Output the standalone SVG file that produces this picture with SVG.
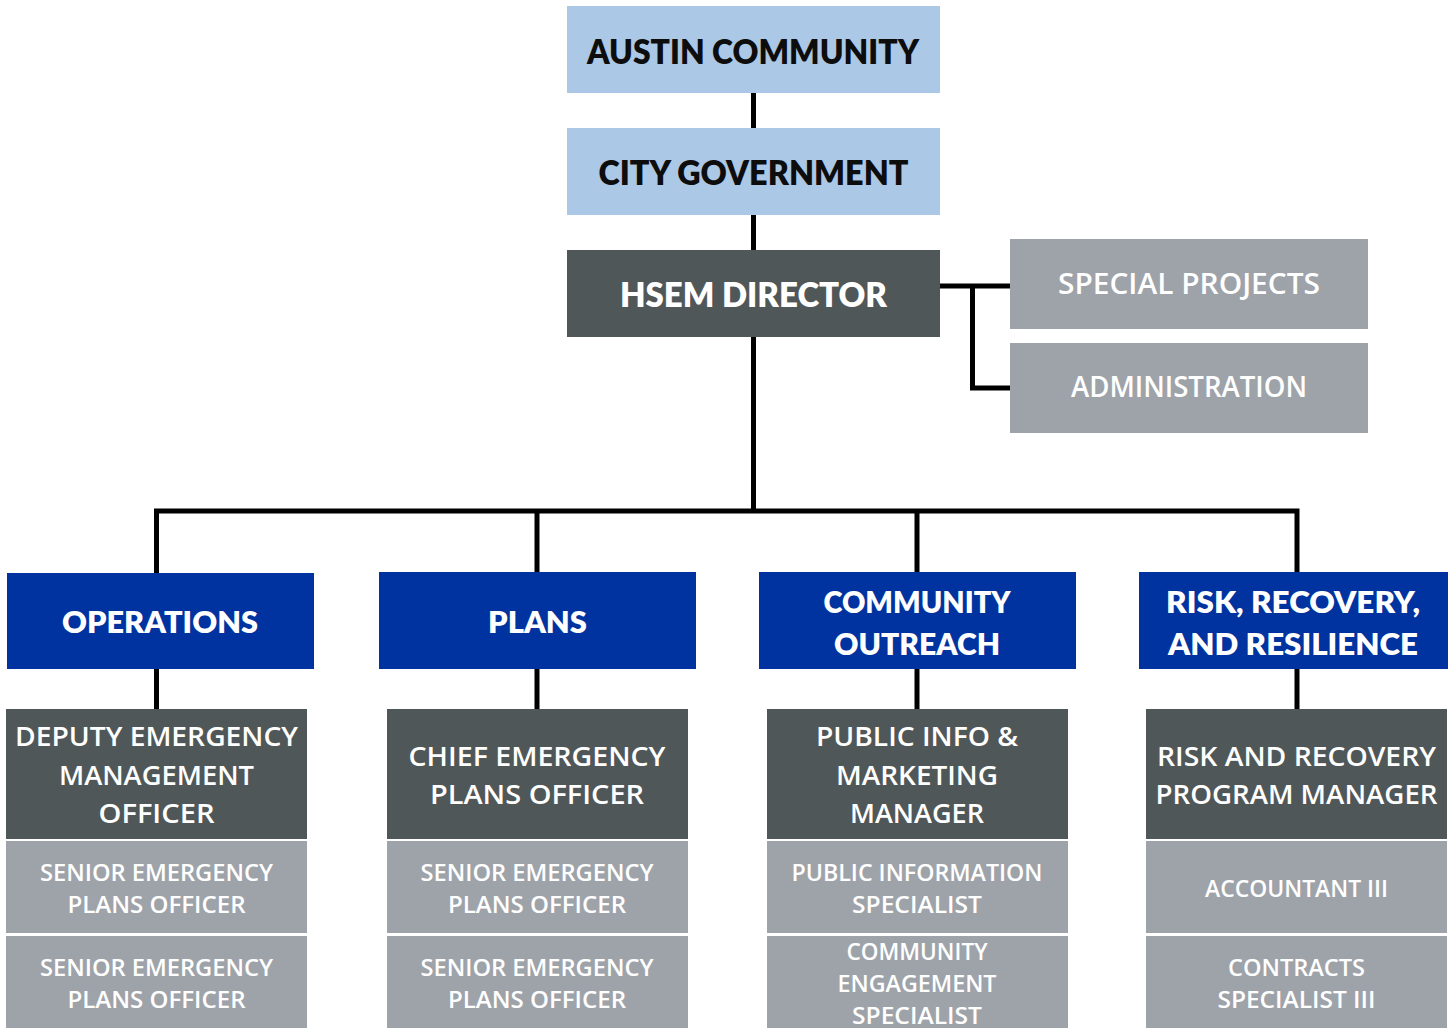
<svg xmlns="http://www.w3.org/2000/svg" width="1455" height="1028" viewBox="0 0 1455 1028">
<style>
  text { font-family: Lato, "Open Sans", "Liberation Sans", sans-serif; text-anchor: middle; }
  .top { fill: #abc8e6; }
  .topt { font-size: 34px; font-weight: 800; fill: #0d0d0d; }
  .dark { fill: #505759; }
  .gray { fill: #9ea3aa; }
  .blue { fill: #0033a0; }
  .dirt { font-size: 34px; font-weight: 800; fill: #ffffff; }
  .sidet { font-family: "Open Sans", Lato, sans-serif; font-size: 28px; font-weight: 600; fill: #ffffff; }
  .bluet { font-size: 30px; font-weight: 800; fill: #ffffff; }
  .darkt { font-family: "Open Sans", Lato, sans-serif; font-size: 26.5px; font-weight: 600; fill: #ffffff; }
  .grayt { font-family: "Open Sans", Lato, sans-serif; font-size: 23.5px; font-weight: 600; fill: #ffffff; }
  .conn { stroke: #000; stroke-width: 5; fill: none; }
</style>
<rect width="1455" height="1028" fill="#ffffff"/>
<g id="connectors">
  <line class="conn" x1="753.5" y1="93" x2="753.5" y2="128"/>
  <line class="conn" x1="753.5" y1="215" x2="753.5" y2="250"/>
  <line class="conn" x1="753.5" y1="337" x2="753.5" y2="511"/>
  <polyline class="conn" points="940,286 1010,286"/>
  <polyline class="conn" points="972.5,286 972.5,388 1010,388"/>
  <polyline class="conn" points="156.5,573 156.5,511 1297,511 1297,572"/>
  <line class="conn" x1="537" y1="511" x2="537" y2="572"/>
  <line class="conn" x1="917" y1="511" x2="917" y2="572"/>
  <line class="conn" x1="156.5" y1="669" x2="156.5" y2="709"/>
  <line class="conn" x1="537" y1="669" x2="537" y2="709"/>
  <line class="conn" x1="917" y1="669" x2="917" y2="709"/>
  <line class="conn" x1="1297" y1="669" x2="1297" y2="709"/>
</g>
<g id="austin"><rect class="top" x="567" y="6" width="373" height="87"/><text class="topt" x="753" y="64" textLength="332" lengthAdjust="spacingAndGlyphs">AUSTIN COMMUNITY</text></g>
<g id="city"><rect class="top" x="567" y="128" width="373" height="87"/><text class="topt" x="753.5" y="185" textLength="310" lengthAdjust="spacingAndGlyphs">CITY GOVERNMENT</text></g>
<g id="director"><rect class="dark" x="567" y="250" width="373" height="87"/><text class="dirt" x="753.5" y="307" textLength="267" lengthAdjust="spacingAndGlyphs">HSEM DIRECTOR</text></g>
<g id="special"><rect class="gray" x="1010" y="239" width="358" height="90"/><text class="sidet" x="1189" y="294" textLength="262" lengthAdjust="spacingAndGlyphs">SPECIAL PROJECTS</text></g>
<g id="admin"><rect class="gray" x="1010" y="343" width="358" height="90"/><text class="sidet" x="1189" y="397" textLength="236" lengthAdjust="spacingAndGlyphs">ADMINISTRATION</text></g>

<g id="operations"><rect class="blue" x="7" y="573" width="307" height="96"/><text class="bluet" x="160" y="633" textLength="196" lengthAdjust="spacingAndGlyphs">OPERATIONS</text></g>
<g id="plans"><rect class="blue" x="379" y="572" width="317" height="97"/><text class="bluet" x="537.5" y="633" textLength="99" lengthAdjust="spacingAndGlyphs">PLANS</text></g>
<g id="community"><rect class="blue" x="759" y="572" width="317" height="97"/><text class="bluet" x="917" y="612.5" textLength="187" lengthAdjust="spacingAndGlyphs">COMMUNITY</text><text class="bluet" x="917" y="654.5" textLength="166" lengthAdjust="spacingAndGlyphs">OUTREACH</text></g>
<g id="risk"><rect class="blue" x="1139" y="572" width="309" height="97"/><text class="bluet" x="1293" y="612.5" textLength="254" lengthAdjust="spacingAndGlyphs">RISK, RECOVERY,</text><text class="bluet" x="1293" y="654.5" textLength="250" lengthAdjust="spacingAndGlyphs">AND RESILIENCE</text></g>

<g id="deputy"><rect class="dark" x="6" y="709" width="301" height="130"/>
  <text class="darkt" x="156.5" y="746" textLength="283" lengthAdjust="spacingAndGlyphs">DEPUTY EMERGENCY</text>
  <text class="darkt" x="156.5" y="785" textLength="195" lengthAdjust="spacingAndGlyphs">MANAGEMENT</text>
  <text class="darkt" x="156.5" y="823" textLength="116" lengthAdjust="spacingAndGlyphs">OFFICER</text></g>
<g id="ops-senior-1"><rect class="gray" x="6" y="841" width="301" height="92"/>
  <text class="grayt" x="156.5" y="881" textLength="233" lengthAdjust="spacingAndGlyphs">SENIOR EMERGENCY</text>
  <text class="grayt" x="156.5" y="913" textLength="178" lengthAdjust="spacingAndGlyphs">PLANS OFFICER</text></g>
<g id="ops-senior-2"><rect class="gray" x="6" y="936" width="301" height="92"/>
  <text class="grayt" x="156.5" y="976" textLength="233" lengthAdjust="spacingAndGlyphs">SENIOR EMERGENCY</text>
  <text class="grayt" x="156.5" y="1008" textLength="178" lengthAdjust="spacingAndGlyphs">PLANS OFFICER</text></g>

<g id="chief"><rect class="dark" x="387" y="709" width="301" height="130"/>
  <text class="darkt" x="537" y="766" textLength="257" lengthAdjust="spacingAndGlyphs">CHIEF EMERGENCY</text>
  <text class="darkt" x="537" y="804" textLength="214" lengthAdjust="spacingAndGlyphs">PLANS OFFICER</text></g>
<g id="plans-senior-1"><rect class="gray" x="387" y="841" width="301" height="92"/>
  <text class="grayt" x="537" y="881" textLength="233" lengthAdjust="spacingAndGlyphs">SENIOR EMERGENCY</text>
  <text class="grayt" x="537" y="913" textLength="178" lengthAdjust="spacingAndGlyphs">PLANS OFFICER</text></g>
<g id="plans-senior-2"><rect class="gray" x="387" y="936" width="301" height="92"/>
  <text class="grayt" x="537" y="976" textLength="233" lengthAdjust="spacingAndGlyphs">SENIOR EMERGENCY</text>
  <text class="grayt" x="537" y="1008" textLength="178" lengthAdjust="spacingAndGlyphs">PLANS OFFICER</text></g>

<g id="public-info"><rect class="dark" x="767" y="709" width="301" height="130"/>
  <text class="darkt" x="917" y="746" textLength="202" lengthAdjust="spacingAndGlyphs">PUBLIC INFO &amp;</text>
  <text class="darkt" x="917" y="785" textLength="162" lengthAdjust="spacingAndGlyphs">MARKETING</text>
  <text class="darkt" x="917" y="823" textLength="134" lengthAdjust="spacingAndGlyphs">MANAGER</text></g>
<g id="pi-specialist"><rect class="gray" x="767" y="841" width="301" height="92"/>
  <text class="grayt" x="917" y="881" textLength="251" lengthAdjust="spacingAndGlyphs">PUBLIC INFORMATION</text>
  <text class="grayt" x="917" y="913" textLength="130" lengthAdjust="spacingAndGlyphs">SPECIALIST</text></g>
<g id="ce-specialist"><rect class="gray" x="767" y="936" width="301" height="92"/>
  <text class="grayt" x="917" y="960" textLength="141" lengthAdjust="spacingAndGlyphs">COMMUNITY</text>
  <text class="grayt" x="917" y="992" textLength="159" lengthAdjust="spacingAndGlyphs">ENGAGEMENT</text>
  <text class="grayt" x="917" y="1024" textLength="130" lengthAdjust="spacingAndGlyphs">SPECIALIST</text></g>

<g id="risk-manager"><rect class="dark" x="1146" y="709" width="301" height="130"/>
  <text class="darkt" x="1296.5" y="766" textLength="279" lengthAdjust="spacingAndGlyphs">RISK AND RECOVERY</text>
  <text class="darkt" x="1296.5" y="804" textLength="282" lengthAdjust="spacingAndGlyphs">PROGRAM MANAGER</text></g>
<g id="accountant"><rect class="gray" x="1146" y="841" width="301" height="92"/>
  <text class="grayt" x="1296.5" y="897" textLength="183" lengthAdjust="spacingAndGlyphs">ACCOUNTANT III</text></g>
<g id="contracts"><rect class="gray" x="1146" y="936" width="301" height="92"/>
  <text class="grayt" x="1296.5" y="976" textLength="137" lengthAdjust="spacingAndGlyphs">CONTRACTS</text>
  <text class="grayt" x="1296.5" y="1008" textLength="158" lengthAdjust="spacingAndGlyphs">SPECIALIST III</text></g>
</svg>
